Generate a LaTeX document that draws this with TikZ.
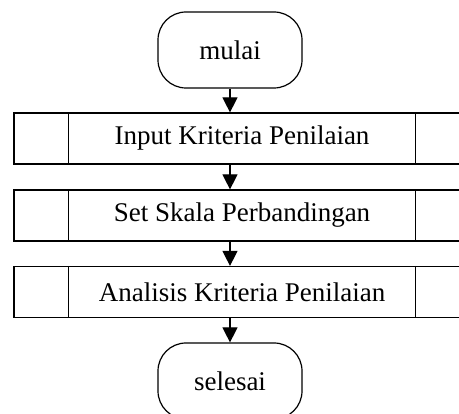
\documentclass[tikz,border=0pt]{standalone}
\usepackage{fontspec}
\setmainfont{Liberation Serif}
\usetikzlibrary{arrows.meta}
\begin{document}
\begin{tikzpicture}[x=1pt,y=-1pt,
  term/.style={draw,line width=1.2pt,rounded corners=28pt,minimum width=144pt,minimum height=76pt,inner sep=0pt,font=\fontsize{27}{32}\selectfont},
  proc/.style={draw,line width=1.2pt,minimum width=456pt,minimum height=51pt,inner sep=0pt,font=\fontsize{27}{32}\selectfont},
  flow/.style={line width=1.2pt,-{Triangle[width=15pt,length=15pt]}}]
\useasboundingbox (0,0) rectangle (459,414);
\node[term] (start) at (230,50) {mulai};
\node[proc] (b1) at (242,138.5) {Input Kriteria Penilaian};
\node[proc] (b2) at (242,215.5) {Set Skala Perbandingan};
\node[proc] (b3) at (242,292) {Analisis Kriteria Penilaian};
\node[term] (end) at (230,381) {selesai};
\foreach \b in {b1,b2,b3}{
  \draw[line width=1.2pt] ([xshift=55pt]\b.north west) -- ([xshift=55pt]\b.south west);
  \draw[line width=1.2pt] ([xshift=-55pt]\b.north east) -- ([xshift=-55pt]\b.south east);
}
\draw[flow] (start.south) -- (start.south |- b1.north);
\draw[flow] (start.south |- b1.south) -- (start.south |- b2.north);
\draw[flow] (start.south |- b2.south) -- (start.south |- b3.north);
\draw[flow] (start.south |- b3.south) -- (end.north);
\end{tikzpicture}
\end{document}
